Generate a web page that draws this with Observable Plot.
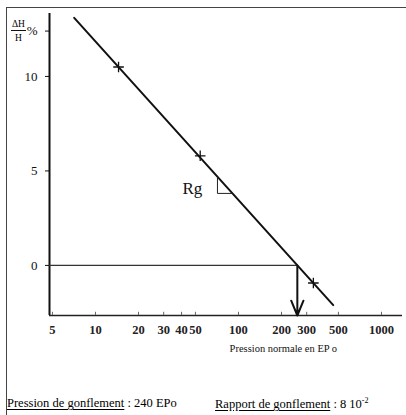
<!DOCTYPE html>
<html>
<head>
<meta charset="utf-8">
<script src="https://cdn.jsdelivr.net/npm/d3@7"></script>
<script src="https://cdn.jsdelivr.net/npm/@observablehq/plot@0.6"></script>
<style>
  html, body { margin: 0; padding: 0; background: #fff; }
  #wrap { position: relative; width: 406px; height: 415px; overflow: hidden; font-family: "Liberation Serif", "DejaVu Serif", serif; color: #000; }
  #frame { position: absolute; left: 6px; top: 7px; width: 420px; height: 420px; border-left: 1.5px solid #444; border-top: 1.5px solid #444; box-sizing: border-box; pointer-events: none; }
  #ylab { position: absolute; left: 11px; top: 19px; display: inline-flex; flex-direction: column; align-items: center; font-size: 9.5px; line-height: 10px; }
  #ylab .num { border-bottom: 1px solid #111; padding: 0 1px 1px 1px; }
  #ylab .den { padding-top: 2px; }
  #caption { position: absolute; left: 7px; top: 396px; width: 399px; font-size: 12.5px; white-space: nowrap; }
  #caption span.r { position: absolute; left: 208px; }
  #caption u { text-underline-offset: 2px; }
  #caption sup { font-size: 8px; }
</style>
</head>
<body>
<div id="wrap">
  <div id="chart"></div>
  <div id="frame"></div>
  <div id="ylab"><span class="num">ΔH</span><span class="den">H</span></div>
  <div id="caption"><span><u>Pression de gonflement</u> : 240 EPo</span><span class="r"><u>Rapport de gonflement</u> : 8 10<sup>-2</sup></span></div>
</div>
<script>
// --- data ---
const xTicks = [5, 10, 20, 30, 40, 50, 100, 200, 300, 500, 1000];
const yTicks = [0, 5, 10];
const yUnitTick = 12.4;               // where the "%" label sits
const xDomain = [4.77, 1403];
const yDomain = [-2.65, 13.33];
const lineP = [7.1, 460];             // fitted line, pressure
const lineDH = [13.1, -2.1];          // fitted line, ΔH/H %
const obsP = [14.5, 54, 334];         // measured points
const obsDH = [10.5, 5.8, -0.93];
const swellP = 258;                   // intersection with ΔH/H = 0
const triP = [71.3, 71.3, 90.8];      // slope triangle Rg
const triDH = [4.66, 3.81, 3.81];
const rgLabel = {p: 47.6, dh: 4.07, text: "Rg"};
const xTitle = {p: 206, text: "Pression normale en EP o"};

const lineData = lineP.map((p, i) => ({p, dh: lineDH[i]}));
const obsData = obsP.map((p, i) => ({p, dh: obsDH[i]}));
const triData = triP.map((p, i) => ({p, dh: triDH[i]}));

const chart = Plot.plot({
  width: 406,
  height: 380,
  marginLeft: 49,
  marginRight: 4,
  marginTop: 13,
  marginBottom: 65,
  style: {fontFamily: "Liberation Serif, DejaVu Serif, serif", background: "#fff", color: "#111"},
  x: {type: "log", domain: xDomain, axis: null},
  y: {domain: yDomain},
  marks: [
    // axes lines
    Plot.ruleX([xDomain[0]], {stroke: "#111", strokeWidth: 2}),
    Plot.ruleY([yDomain[0]], {stroke: "#222", strokeWidth: 1.6}),
    // x ticks (small, pointing up) and labels
    Plot.ruleX(xTicks, {y1: yDomain[0], y2: yDomain[0] + 0.17, stroke: "#666", strokeWidth: 1}),
    Plot.text(xTicks, {x: d => d, frameAnchor: "bottom", dy: 18, text: d => String(d), fontSize: 12.5, fontWeight: "bold", fill: "#222"}),
    Plot.axisY([...yTicks, yUnitTick], {tickSize: 4, tickPadding: 8, fontSize: 13, tickFormat: d => d === yUnitTick ? "%" : String(d), label: null}),
    // x title
    Plot.text([xTitle], {x: "p", frameAnchor: "bottom", dy: 36, text: "text", fontSize: 10.5}),
    // horizontal reference at 0
    Plot.ruleY([0], {x1: xDomain[0], x2: swellP, stroke: "#333", strokeWidth: 1.1}),
    // arrow down to axis
    Plot.arrow([{p: swellP}], {x1: "p", x2: "p", y1: 0, y2: yDomain[0], stroke: "#111", strokeWidth: 2, headLength: 12, headAngle: 45}),
    // fitted line
    Plot.line(lineData, {x: "p", y: "dh", stroke: "#111", strokeWidth: 2}),
    // measured points
    Plot.dot(obsData, {x: "p", y: "dh", symbol: "plus", r: 3.5, stroke: "#111", strokeWidth: 1.3}),
    // slope triangle
    Plot.line(triData, {x: "p", y: "dh", stroke: "#222", strokeWidth: 1}),
    Plot.text([rgLabel], {x: "p", y: "dh", text: "text", fontSize: 17})
  ]
});
document.getElementById("chart").appendChild(chart);
</script>
</body>
</html>
